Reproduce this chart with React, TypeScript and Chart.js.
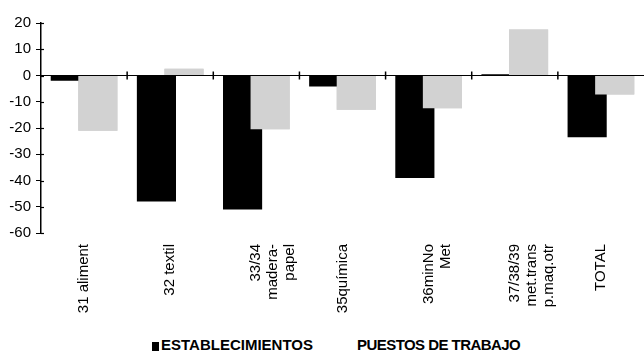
import React, { useEffect, useRef } from "react";
import { Chart, registerables } from "chart.js";

Chart.register(...registerables);

const categories: string[][] = [
  ["31 aliment"],
  ["32 textil"],
  ["33/34", "madera-", "papel"],
  ["35química"],
  ["36minNo", "Met"],
  ["37/38/39", "met.trans", "p.maq.otr"],
  ["TOTAL"],
];
const establecimientos = [-2, -48, -51, -4.2, -39, 0.5, -23.5];
const puestosTrabajo = [-21, 2.6, -20.5, -13, -12.5, 17.5, -7.2];
const seriesNames = ["ESTABLECIMIENTOS", "PUESTOS DE TRABAJO"];
const yMin = -60;
const yMax = 20;
const yStep = 10;

const BLACK = "#000000";
const GRAY = "#d2d2d2";

const boundaryTicks = {
  id: "boundaryTicks",
  afterDatasetsDraw(chart: any) {
    // gray series sits in front of the black one
    chart.getDatasetMeta(1).controller.draw();
    const x = chart.scales.x;
    const y = chart.scales.y;
    const ctx = chart.ctx;
    const y0 = y.getPixelForValue(0);
    ctx.save();
    ctx.strokeStyle = "#000";
    ctx.lineWidth = 1.2;
    ctx.beginPath();
    ctx.moveTo(chart.chartArea.left, y0);
    ctx.lineTo(chart.chartArea.right, y0);
    ctx.stroke();
    ctx.lineWidth = 1.5;
    for (let i = 1; i < categories.length; i++) {
      const px = (x.getPixelForValue(i - 1) + x.getPixelForValue(i)) / 2;
      ctx.beginPath();
      ctx.moveTo(px, y0 - 4);
      ctx.lineTo(px, y0 + 4);
      ctx.stroke();
    }
    // y tick marks cross the axis slightly
    ctx.lineWidth = 1.2;
    const ax = chart.chartArea.left;
    y.ticks.forEach((t: any) => {
      const py = Math.round(y.getPixelForValue(t.value)) + 0.5;
      ctx.beginPath();
      ctx.moveTo(ax, py);
      ctx.lineTo(ax + 3, py);
      ctx.stroke();
    });
    ctx.restore();
  },
};

const legendFont: React.CSSProperties = {
  position: "absolute",
  top: 336,
  fontFamily: "'Liberation Sans', Arial, sans-serif",
  fontWeight: "bold",
  fontSize: 15,
  lineHeight: "17px",
  color: "#000",
  whiteSpace: "nowrap",
};

export default function App() {
  const ref = useRef<HTMLCanvasElement | null>(null);
  useEffect(() => {
    if (!ref.current) return;
    const chart = new Chart(ref.current, {
      type: "bar",
      data: {
        labels: categories,
        datasets: [
          {
            label: seriesNames[0],
            data: establecimientos,
            backgroundColor: BLACK,
            borderWidth: 0,
            categoryPercentage: 0.64,
            barPercentage: 1.42,
          },
          {
            label: seriesNames[1],
            data: puestosTrabajo,
            backgroundColor: GRAY,
            borderWidth: 0,
            categoryPercentage: 0.64,
            barPercentage: 1.42,
          },
        ],
      },
      options: {
        responsive: false,
        animation: false,
        layout: { padding: { top: 23, right: 0, left: 0, bottom: 0 } },
        plugins: {
          tooltip: { enabled: false },
          legend: { display: false },
        },
        scales: {
          x: {
            grid: { display: false, drawTicks: false },
            border: { display: false },
            ticks: {
              color: "#000",
              font: { family: "'Liberation Sans', Arial", size: 15, lineHeight: 1.12 },
              minRotation: 90,
              maxRotation: 90,
              padding: 11,
              autoSkip: false,
            },
            afterFit: (s: any) => {
              s.height = 97;
            },
          },
          y: {
            min: yMin,
            max: yMax,
            border: { display: true, color: "#000", width: 1.5 },
            grid: {
              color: "transparent",
              tickColor: "#000",
              tickLength: 5,
              drawOnChartArea: false,
            },
            ticks: {
              stepSize: yStep,
              color: "#000",
              font: { family: "'Liberation Sans', Arial", size: 15 },
              padding: 5,
            },
            afterFit: (s: any) => {
              s.width = 41;
            },
          },
        },
      },
      plugins: [boundaryTicks],
    });
    return () => chart.destroy();
  }, []);
  return (
    <div style={{ position: "fixed", left: 0, top: 0, width: 644, height: 353, background: "#fff" }}>
      <canvas ref={ref} width={644} height={330} style={{ display: "block" }} />
      <div style={{ position: "absolute", left: 152, top: 342, width: 7, height: 9, background: BLACK }} />
      <div style={{ ...legendFont, left: 161 }}>{seriesNames[0]}</div>
      <div style={{ ...legendFont, left: 357, letterSpacing: "-0.55px" }}>{seriesNames[1]}</div>
    </div>
  );
}
